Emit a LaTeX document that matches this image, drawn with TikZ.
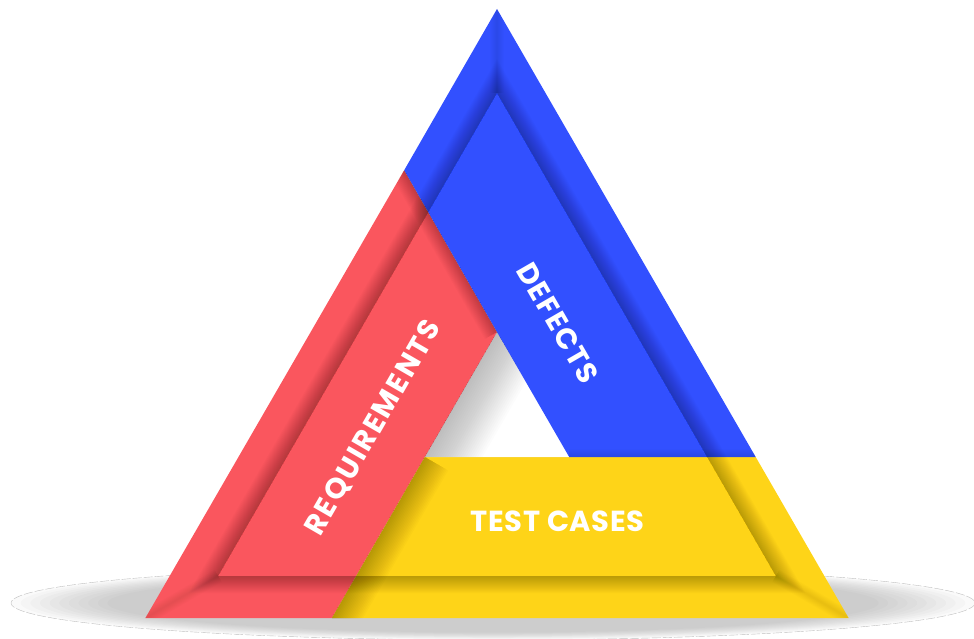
\documentclass[tikz,border=0pt]{standalone}
\usepackage{fontspec}
\newfontfamily\labfontA{Poppins}[LetterSpace=2]
\newfontfamily\labfontB{Poppins}[LetterSpace=5]
\newfontfamily\labfontC{Poppins}[LetterSpace=7]
\usetikzlibrary{calc}
\definecolor{cRed}{RGB}{250,86,94}
\definecolor{cBlue}{RGB}{50,80,255}
\definecolor{cYel}{RGB}{254,212,24}
\begin{document}
\begin{tikzpicture}[x=1pt,y=-1pt,
  bandtext/.style={text=white, inner sep=0pt},
  softstroke/.style={line width=#1, black, opacity=0.016, line join=miter}]
\useasboundingbox (0,0) rectangle (974,639);
% key points
\coordinate (A) at (497,9);
\coordinate (BL) at (145.4,618);
\coordinate (BR) at (848.6,618);
\coordinate (H) at (497,332);
\coordinate (RB) at (331.9,618);
\coordinate (RT) at (404.2,170.2);
\coordinate (HL) at (424.8,457);
\coordinate (HR) at (569.2,457);
\coordinate (YR) at (755.7,457);
\coordinate (IA) at (497,93);
\coordinate (IL) at (218.1,576);
\coordinate (IR) at (775.9,576);
\coordinate (FC) at (493,603);
% floor shadow
\foreach \s in {1.00,0.98,...,0.79}
  \fill[black, opacity=0.021] (FC) ellipse [x radius=482*\s, y radius=37*\s];
\draw[gray!50, line width=0.4pt, dash pattern=on 9pt off 2pt] (FC) ellipse [x radius=482, y radius=37];
% bands
\fill[cRed] (BL) -- (RB) -- (H) -- (RT) -- cycle;
\fill[cYel] (RB) -- (BR) -- (YR) -- (HL) -- cycle;
\fill[cBlue] (A) -- (YR) -- (HR) -- (H) -- (RT) -- cycle;
% hole shadow cast by red band
\begin{scope}
  \clip (H) -- (HL) -- (HR) -- cycle;
  \foreach \w in {4,8,...,100} \draw[line width=\w pt, black, opacity=0.011] (H) -- (HL);
  \draw[black!12, line width=0.5pt] (HL) -- (HR);
\end{scope}
% blue casts shadow on red
\begin{scope}
  \clip (BL) -- (RB) -- (H) -- (RT) -- cycle;
  \foreach \w in {2,4,...,28} \draw[softstroke=\w pt] (RT) -- (H);
\end{scope}
% red casts shadow on yellow
\begin{scope}
  \clip (RB) -- (BR) -- (YR) -- (HL) -- cycle;
  \foreach \w in {3,6,...,54} \draw[softstroke=\w pt] (HL) -- (RB);
\end{scope}
% yellow casts light shadow on blue
\begin{scope}
  \clip (A) -- (YR) -- (HR) -- (H) -- (RT) -- cycle;
  \foreach \w in {2,4,...,16} \draw[line width=\w pt, black, opacity=0.012] (HR) -- (YR);
\end{scope}
% raised inner frame: shadow outward
\begin{scope}
  \clip (BL) -- (BR) -- (A) -- cycle (IL) -- (IA) -- (IR) -- cycle;
  \foreach \w in {2,4,...,34} \draw[softstroke=\w pt] (IA) -- (IL) -- (IR) -- cycle;
  \foreach \w in {2,4,...,14} {
    \draw[line width=\w pt, black, opacity=0.012] (IL) -- (BL);
    \draw[line width=\w pt, black, opacity=0.012] (IR) -- (BR);
    \draw[line width=\w pt, black, opacity=0.012] (IA) -- (A);
  }
\end{scope}
% labels
\node[bandtext, font=\labfontB\bfseries\fontsize{29}{31}\selectfont, rotate=-60] (def) at (558,323) {DEFECTS};
\node[bandtext, font=\labfontC\bfseries\fontsize{29}{31}\selectfont, rotate=60] (req) at (373.5,428) {REQUIREMENTS};
\node[bandtext, font=\labfontA\bfseries\fontsize{29}{31}\selectfont] (tc) at (557.5,521) {TEST CASES};
\end{tikzpicture}
\end{document}
